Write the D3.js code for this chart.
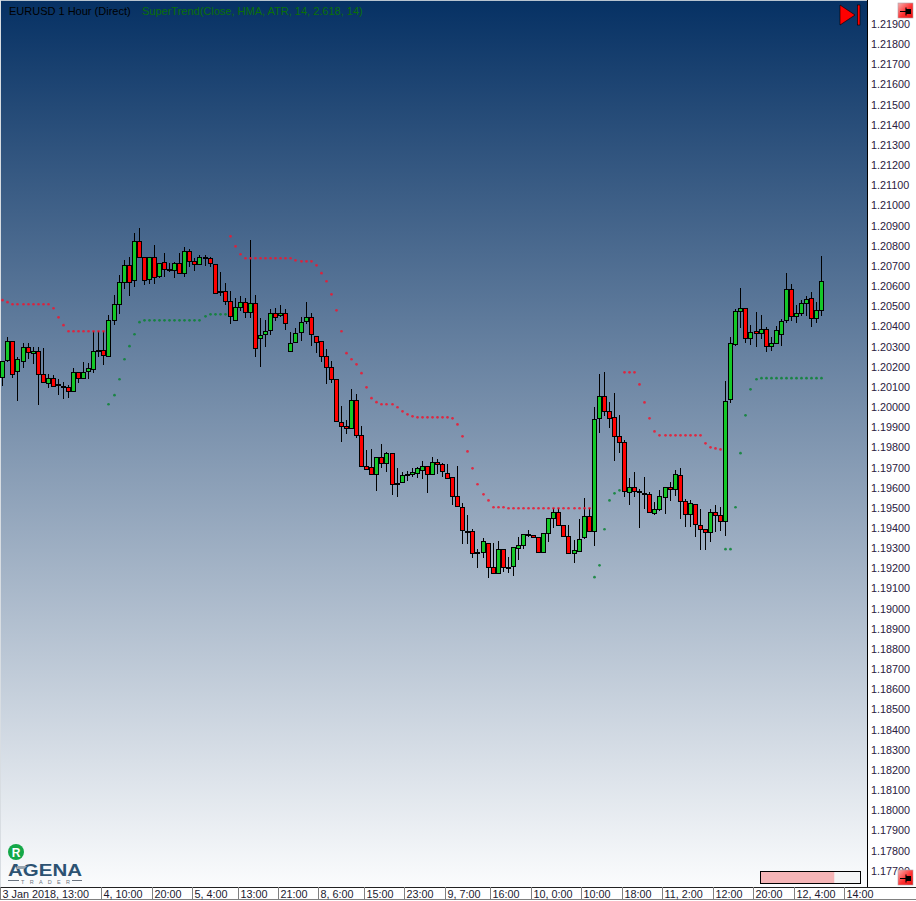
<!DOCTYPE html>
<html><head><meta charset="utf-8">
<script src="https://cdn.jsdelivr.net/npm/d3@7/dist/d3.min.js"></script>
<style>html,body{margin:0;padding:0;background:#fff}svg{display:block}text{font-family:"Liberation Sans",Arial,sans-serif}</style>
</head><body><svg id="c" width="916" height="901"></svg>
<script>
const titleMain = "EURUSD 1 Hour (Direct)";
const titleIndicator = "SuperTrend(Close, HMA, ATR, 14, 2.618, 14)";
const priceTicks = [1.219,1.218,1.217,1.216,1.215,1.214,1.213,1.212,1.211,1.21,1.209,1.208,1.207,1.206,1.205,1.204,1.203,1.202,1.201,1.2,1.199,1.198,1.197,1.196,1.195,1.194,1.193,1.192,1.191,1.19,1.189,1.188,1.187,1.186,1.185,1.184,1.183,1.182,1.181,1.18,1.179,1.178,1.177];
const timeLabels = ["3 Jan 2018, 13:00","4, 10:00","20:00","5, 4:00","13:00","21:00","8, 6:00","15:00","23:00","9, 7:00","16:00","10, 0:00","10:00","18:00","11, 2:00","12:00","20:00","12, 4:00","14:00"];
const timeBars = [0,20,30,38,47,55,63,72,80,88,97,105,115,123,131,141,149,157,167];
const open = [1.20153,1.20237,1.20331,1.20183,1.20232,1.20302,1.20272,1.20282,1.20168,1.20123,1.20148,1.20118,1.20108,1.20103,1.20083,1.20178,1.20148,1.20183,1.20192,1.20287,1.20287,1.20257,1.20435,1.20515,1.20624,1.20708,1.20634,1.20827,1.20748,1.20639,1.20748,1.20654,1.20723,1.20688,1.20683,1.20718,1.20669,1.20778,1.20728,1.20713,1.20748,1.20743,1.20713,1.20579,1.20579,1.20530,
1.20435,1.20503,1.20528,1.20475,1.20523,1.20346,1.20366,1.20386,1.20473,1.20460,1.20473,1.20282,1.20326,1.20376,1.20430,1.20450,1.20359,1.20331,1.20257,1.20202,1.20143,1.19930,1.19910,1.19900,1.20039,1.19864,1.19715,1.19706,1.19672,1.19756,1.19726,1.19776,1.19627,1.19632,1.19672,1.19672,1.19677,1.19692,1.19715,1.19672,1.19731,1.19721,1.19680,
1.19656,1.19562,1.19508,1.19389,1.19389,1.19285,1.19285,1.19329,1.19210,1.19180,1.19299,1.19210,1.19215,1.19304,1.19319,1.19374,1.19369,1.19359,1.19285,1.19379,1.19453,1.19483,1.19418,1.19364,1.19280,1.19290,1.19359,1.19463,1.19389,
1.19949,1.20058,1.19983,1.19954,1.19859,1.19830,1.19582,1.19607,1.19587,1.19577,1.19572,1.19478,1.19498,1.19557,1.19607,1.19597,1.19667,1.19538,1.19473,1.19523,1.19419,1.19399,1.19384,1.19483,1.19468,1.19438,1.20043,1.20316,1.20480,1.20495,1.20346,1.20381,1.20371,1.20391,1.20310,1.20321,1.20366,1.20435,1.20589,1.20455,1.20470,1.20520,1.20544,1.20445,1.20485];
const close = [1.20235,1.20331,1.20168,1.20242,1.20302,1.20277,1.20282,1.20168,1.20128,1.20148,1.20108,1.20115,1.20103,1.20083,1.20181,1.20149,1.20181,1.20197,1.20282,1.20283,1.20262,1.20435,1.20515,1.20624,1.20708,1.20624,1.20827,1.20748,1.20634,1.20748,1.20649,1.20718,1.20688,1.20683,1.20718,1.20669,1.20778,1.20728,1.20713,1.20748,1.20743,1.20718,1.20569,1.20574,1.20530,1.20459,
1.20503,1.20528,1.20478,1.20523,1.20297,1.20364,1.20384,1.20473,1.20454,1.20473,1.20421,1.20321,1.20374,1.20429,1.20450,1.20366,1.20326,1.20257,1.20202,1.20143,1.19935,1.19910,1.19900,1.20039,1.19864,1.19715,1.19697,1.19672,1.19756,1.19726,1.19776,1.19622,1.19622,1.19670,1.19667,1.19685,1.19702,1.19715,1.19672,1.19731,1.19723,1.19687,1.19652,
1.19562,1.19513,1.19394,1.19384,1.19280,1.19280,1.19339,1.19210,1.19180,1.19299,1.19210,1.19205,1.19309,1.19319,1.19374,1.19369,1.19359,1.19285,1.19379,1.19453,1.19483,1.19418,1.19364,1.19280,1.19295,1.19349,1.19463,1.19389,1.19944,
1.20058,1.19983,1.19949,1.19859,1.19830,1.19587,1.19607,1.19587,1.19582,1.19572,1.19483,1.19498,1.19562,1.19607,1.19597,1.19672,1.19538,1.19473,1.19528,1.19424,1.19399,1.19384,1.19483,1.19468,1.19438,1.20034,1.20321,1.20480,1.20495,1.20346,1.20376,1.20371,1.20391,1.20310,1.20321,1.20386,1.20430,1.20589,1.20455,1.20470,1.20520,1.20539,1.20445,1.20485,1.20629];
const high = [1.20235,1.20351,1.20331,1.20252,1.20325,1.20321,1.20305,1.20302,1.20297,1.20168,1.20164,1.20143,1.20128,1.20113,1.20197,1.20181,1.20227,1.20222,1.20384,1.20384,1.20384,1.20462,1.20561,1.20660,1.20735,1.20751,1.20867,1.20893,1.20748,1.20748,1.20809,1.20718,1.20768,1.20718,1.20726,1.20768,1.20797,1.20788,1.20743,1.20758,1.20758,1.20748,1.20713,1.20673,1.20619,1.20581,
1.20545,1.20556,1.20545,1.20834,1.20561,1.20445,1.20437,1.20490,1.20495,1.20511,1.20490,1.20376,1.20399,1.20454,1.20526,1.20470,1.20359,1.20331,1.20292,1.20232,1.20143,1.20011,1.19941,1.20095,1.20070,1.19910,1.19792,1.19796,1.19756,1.19822,1.19784,1.19776,1.19702,1.19685,1.19690,1.19705,1.19710,1.19735,1.19715,1.19759,1.19746,1.19726,1.19721,
1.19656,1.19713,1.19528,1.19470,1.19399,1.19299,1.19354,1.19329,1.19329,1.19339,1.19299,1.19260,1.19309,1.19362,1.19374,1.19394,1.19369,1.19359,1.19379,1.19453,1.19503,1.19503,1.19418,1.19418,1.19344,1.19448,1.19552,1.19503,1.20004,
1.20169,1.20178,1.20028,1.20073,1.19964,1.19841,1.19651,1.19681,1.19597,1.19656,1.19586,1.19533,1.19594,1.19607,1.19632,1.19693,1.19701,1.19548,1.19544,1.19523,1.19498,1.19399,1.19498,1.19518,1.19508,1.20133,1.20351,1.20490,1.20594,1.20495,1.20410,1.20475,1.20460,1.20400,1.20351,1.20407,1.20440,1.20668,1.20615,1.20511,1.20536,1.20556,1.20574,1.20524,1.20754];
const low = [1.20110,1.20230,1.20148,1.20037,1.20201,1.20242,1.20219,1.20017,1.20125,1.20101,1.20105,1.20065,1.20047,1.20052,1.20083,1.20126,1.20148,1.20146,1.20173,1.20252,1.20216,1.20257,1.20412,1.20467,1.20591,1.20556,1.20601,1.20745,1.20611,1.20616,1.20614,1.20644,1.20649,1.20677,1.20644,1.20669,1.20649,1.20698,1.20682,1.20713,1.20707,1.20698,1.20569,1.20556,1.20511,1.20417,
1.20434,1.20483,1.20447,1.20449,1.20254,1.20206,1.20303,1.20363,1.20434,1.20450,1.20389,1.20282,1.20326,1.20333,1.20419,1.20308,1.20272,1.20230,1.20121,1.20123,1.19935,1.19834,1.19872,1.19900,1.19850,1.19715,1.19693,1.19667,1.19591,1.19702,1.19685,1.19569,1.19559,1.19632,1.19639,1.19660,1.19652,1.19649,1.19581,1.19672,1.19673,1.19660,1.19647,
1.19519,1.19513,1.19326,1.19324,1.19255,1.19209,1.19255,1.19159,1.19175,1.19180,1.19185,1.19180,1.19166,1.19247,1.19299,1.19359,1.19356,1.19280,1.19285,1.19334,1.19404,1.19415,1.19361,1.19275,1.19233,1.19285,1.19349,1.19389,1.19318,
1.19874,1.19960,1.19899,1.19737,1.19775,1.19557,1.19517,1.19557,1.19407,1.19497,1.19483,1.19470,1.19491,1.19475,1.19541,1.19566,1.19450,1.19412,1.19412,1.19362,1.19298,1.19298,1.19334,1.19384,1.19391,1.19367,1.20027,1.20310,1.20396,1.20323,1.20315,1.20305,1.20341,1.20280,1.20285,1.20318,1.20308,1.20420,1.20432,1.20422,1.20458,1.20458,1.20404,1.20424,1.20458];
const superTrendDown = [1.20535,1.20525,1.20515,1.20515,1.20515,1.20515,1.20515,1.20515,1.20515,1.20515,1.20495,1.20450,1.20411,1.20381,1.20381,1.20381,1.20381,1.20381,1.20381,1.20381,1.20381,
null,null,null,null,null,null,null,null,null,null,null,null,null,null,null,null,null,null,null,null,null,null,null,null,
1.20852,1.20802,1.20763,1.20743,1.20743,1.20743,1.20743,1.20743,1.20743,1.20743,1.20743,1.20743,1.20743,1.20733,1.20728,1.20728,1.20728,1.20708,1.20669,1.20629,1.20564,1.20485,1.20381,1.20272,1.20242,1.20217,1.20173,1.20103,1.20049,1.20029,1.20019,1.20019,1.20019,1.20004,1.19984,1.19969,1.19959,1.19954,1.19954,1.19954,1.19954,1.19954,1.19954,1.19954,
1.19949,1.19919,1.19860,1.19785,1.19701,1.19622,1.19572,1.19542,1.19508,1.19508,1.19508,1.19503,1.19503,1.19503,1.19503,1.19503,1.19503,1.19503,1.19503,1.19503,1.19503,1.19503,1.19503,1.19503,1.19503,1.19503,1.19503,1.19503,
null,null,null,null,null,null,
1.20177,1.20177,1.20177,1.20117,1.20028,1.19949,1.19884,1.19865,1.19865,1.19865,1.19865,1.19865,1.19865,1.19865,1.19865,1.19865,1.19825,1.19805,1.19800,1.19795,
null,null,null,null,null,null,null,null,null,null,null,null,null,null,null,null,null,null,null,null];
const superTrendUp = [null,null,null,null,null,null,null,null,null,null,null,null,null,null,null,null,null,null,null,null,null,
1.20019,1.20064,1.20143,1.20242,1.20307,1.20366,1.20426,1.20435,1.20435,1.20435,1.20435,1.20435,1.20435,1.20435,1.20435,1.20435,1.20435,1.20435,1.20435,1.20455,1.20465,1.20465,1.20465,1.20465,
null,null,null,null,null,null,null,null,null,null,null,null,null,null,null,null,null,null,null,null,null,null,null,null,null,null,null,null,null,null,null,null,null,null,null,null,null,null,null,null,null,null,null,null,
null,null,null,null,null,null,null,null,null,null,null,null,null,null,null,null,null,null,null,null,null,null,null,null,null,null,null,null,
1.19161,1.19220,1.19399,1.19542,1.19577,1.19592,
null,null,null,null,null,null,null,null,null,null,null,null,null,null,null,null,null,null,null,null,
1.19300,1.19300,1.19508,1.19776,1.19964,1.20093,1.20143,1.20148,1.20148,1.20148,1.20148,1.20148,1.20148,1.20148,1.20148,1.20148,1.20148,1.20148,1.20148,1.20148];
const progressShare = 0.74;

const svg = d3.select("#c");
const W = 916, H = 901, plotR = 867, plotB = 887;
const defs = svg.append("defs");
const bg = defs.append("linearGradient").attr("id","bg").attr("x1",0).attr("x2",0).attr("y1",0).attr("y2",1);
bg.append("stop").attr("offset",0).attr("stop-color","#063164");
bg.append("stop").attr("offset",1).attr("stop-color","#fbfcfd");
const pin = defs.append("linearGradient").attr("id","pin").attr("x1",0).attr("x2",1).attr("y1",0).attr("y2",1);
pin.append("stop").attr("offset",0).attr("stop-color","#f6b0b0");
pin.append("stop").attr("offset",0.55).attr("stop-color","#ff3030");
pin.append("stop").attr("offset",1).attr("stop-color","#e81010");

svg.append("rect").attr("width",W).attr("height",H).attr("fill","#fff");
svg.append("rect").attr("width",plotR).attr("height",plotB).attr("fill","url(#bg)");
svg.append("rect").attr("width",plotR).attr("height",1).attr("fill","#b8c4d0");
svg.append("rect").attr("width",1).attr("height",plotB).attr("fill","#d8dde2");

const y = d3.scaleLinear().domain([1.219,1.178]).range([25,851.6]);
const x = d3.scaleLinear().domain([0,167]).range([2.8,847]);
const cx = i => Math.floor(x(i)) + .5;
const px = v => Math.round(y(v)) + .5;

// wicks
const bars = d3.range(open.length);
svg.append("g").selectAll("line").data(bars).join("line")
  .attr("x1",cx).attr("x2",cx)
  .attr("y1",i=>Math.round(y(high[i]))).attr("y2",i=>Math.round(y(low[i])))
  .attr("stroke","#000").attr("stroke-width",1);
// bodies
svg.append("g").selectAll("rect").data(bars).join("rect")
  .attr("x",i=>cx(i)-2).attr("width",4)
  .attr("y",i=>px(Math.max(open[i],close[i])))
  .attr("height",i=>Math.max(1,px(Math.min(open[i],close[i]))-px(Math.max(open[i],close[i]))))
  .attr("fill",i=>close[i]>=open[i]?"#14c828":"#ff0000")
  .attr("stroke","#000").attr("stroke-width",1);
// supertrend dots
function dots(vals,color){
  svg.append("g").selectAll("circle").data(bars.filter(i=>vals[i]!=null)).join("circle")
    .attr("cx",cx).attr("cy",i=>y(vals[i])).attr("r",1.35).attr("fill",color).attr("fill-opacity",.85);
}
dots(superTrendDown,"#ee1830");
dots(superTrendUp,"#0c8434");

// titles
svg.append("text").attr("x",9).attr("y",15).attr("font-size",11).attr("fill","#000").text(titleMain);
svg.append("text").attr("x",142).attr("y",15).attr("font-size",11).attr("fill","#0a7008").text(titleIndicator);

// run-to-end marker
svg.append("polygon").attr("points","840,5 855,15 840,25").attr("fill","#ff0000").attr("stroke","#000").attr("stroke-width",.6);
svg.append("rect").attr("x",857.5).attr("y",5).attr("width",2.5).attr("height",20).attr("fill","#ff0000").attr("stroke","#000").attr("stroke-width",.6);

// right axis
svg.append("rect").attr("x",plotR).attr("width",W-plotR).attr("height",H).attr("fill","#fff");
svg.append("line").attr("x1",plotR+.5).attr("x2",plotR+.5).attr("y1",0).attr("y2",plotB).attr("stroke","#000");
const ay = svg.append("g").attr("transform",`translate(${plotR+3},-1)`)
  .call(d3.axisRight(y).tickValues(priceTicks).tickFormat(d3.format(".5f")).tickSize(0).tickPadding(1));
ay.select(".domain").remove();
ay.selectAll("text").attr("font-size",10.8).attr("fill","#2a2040").style("font-family",'"Liberation Sans",Arial,sans-serif');

// bottom axis
svg.append("rect").attr("y",plotB).attr("width",W).attr("height",H-plotB).attr("fill","#fff");
svg.append("line").attr("x1",0).attr("x2",W).attr("y1",plotB+.5).attr("y2",plotB+.5).attr("stroke","#222");
svg.append("line").attr("x1",1).attr("x2",W).attr("y1",H-1.5).attr("y2",H-1.5).attr("stroke","#808080");
const t = svg.append("g").selectAll("g").data(timeLabels).join("g")
  .attr("transform",(d,i)=>`translate(${Math.round(x(timeBars[i])-2.8)+.5},0)`);
t.append("line").attr("y1",plotB).attr("y2",H-1).attr("stroke","#808080");
t.append("text").attr("x",2).attr("y",plotB+11).attr("font-size",10.8).attr("fill","#1a1a30").text(d=>d);

// progress bar
svg.append("rect").attr("x",760.5).attr("y",871.5).attr("width",100).attr("height",12).attr("fill","#f4f5f6").attr("stroke","#000");
svg.append("rect").attr("x",761).attr("y",872).attr("width",99*progressShare).attr("height",11).attr("fill","#f5b5b7");

// pin buttons
function pinBtn(px0,py0){
  const g = svg.append("g").attr("transform",`translate(${px0},${py0})`);
  g.append("rect").attr("width",15).attr("height",15).attr("fill","url(#pin)").attr("stroke","#b0a0a8").attr("stroke-width",.6);
  g.append("path").attr("d","M2 8.5H8M8 4.5V12.5").attr("stroke","#000").attr("fill","none").attr("stroke-width",1.1);
  g.append("rect").attr("x",8).attr("y",6).attr("width",5).attr("height",5).attr("fill","#000");
}
pinBtn(898,3);
pinBtn(898,870);

// logo
svg.append("circle").attr("cx",16).attr("cy",852).attr("r",8).attr("fill","#14a848");
svg.append("text").attr("x",16).attr("y",856.5).attr("text-anchor","middle").attr("font-size",12).attr("font-weight",700).attr("fill","#fff").text("R");
svg.append("text").attr("x",8).attr("y",875.5).attr("font-size",17).attr("font-weight",700).attr("fill","#2c5272").attr("textLength",74).attr("lengthAdjust","spacingAndGlyphs").text("AGENA");
svg.append("path").attr("d","M17 866H27L24 869H16Z").attr("fill","#9aa6b0");
svg.append("text").attr("x",21).attr("y",883.5).attr("font-size",5.5).attr("fill","#6a7480").attr("textLength",49).text("TRADER");
svg.append("path").attr("d","M8 880.5H19M72 880.5H82").attr("stroke","#6a7480").attr("stroke-width",1);
</script></body></html>
